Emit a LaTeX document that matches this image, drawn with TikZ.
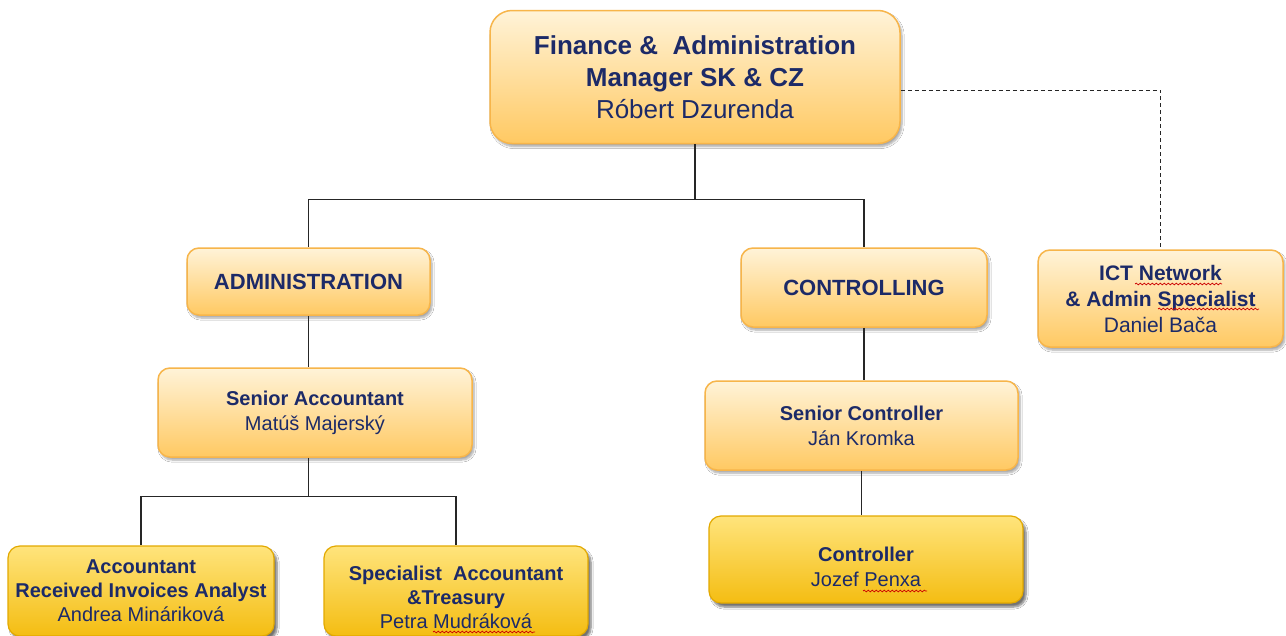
\documentclass[tikz,border=0pt]{standalone}
\usepackage{fontspec}
\setmainfont{Liberation Sans}
\usetikzlibrary{shadows.blur,decorations.pathmorphing}
\definecolor{navy}{HTML}{1C2A68}
\definecolor{lighttop}{HTML}{FFF3D8}
\definecolor{lightbot}{HTML}{FFC962}
\definecolor{lightedge}{HTML}{F7B54A}
\definecolor{darktop}{HTML}{FFE47C}
\definecolor{darkbot}{HTML}{F4BD12}
\definecolor{darkedge}{HTML}{E3A900}
\definecolor{wire}{HTML}{262626}
\tikzset{
  lightbox/.style={draw=lightedge, line width=1.5pt, top color=lighttop, bottom color=lightbot,
    rounded corners=12pt, align=center, inner sep=0pt, text=navy,
    blur shadow={shadow xshift=2pt, shadow yshift=-3pt, shadow blur steps=6, shadow opacity=35}},
  darkbox/.style={draw=darkedge, line width=1.2pt, top color=darktop, bottom color=darkbot,
    rounded corners=12pt, align=center, inner sep=0pt, text=navy,
    blur shadow={shadow xshift=3pt, shadow yshift=-4pt, shadow blur steps=6, shadow opacity=55}},
  boxtext/.style={align=center, inner sep=0pt, text=navy},
  wireline/.style={draw=wire, line width=1.3pt},
  dashline/.style={draw=wire, line width=1pt, dash pattern=on 4pt off 3pt},
  squiggle/.style={draw=red!80!black, line width=0.7pt, decorate,
    decoration={snake, amplitude=0.9pt, segment length=4pt}}
}
\begin{document}
\begin{tikzpicture}[x=1pt,y=-1pt]
\useasboundingbox[fill=white] (0,0) rectangle (1286,635);

% nodes
\node[lightbox, rounded corners=22pt, minimum width=410pt, minimum height=133pt,
  font=\fontsize{26}{32}\selectfont] (top) at (695,77)
  {\textbf{Finance \&\ \ Administration}\\\textbf{Manager SK \& CZ}\\Róbert Dzurenda};

\node[lightbox, minimum width=243pt, minimum height=67pt,
  font=\fontsize{22}{26}\selectfont\bfseries] (admin) at (308.5,281.5) {ADMINISTRATION};

\node[lightbox, minimum width=246pt, minimum height=79pt,
  font=\fontsize{22}{26}\selectfont\bfseries] (ctrl) at (864,287.5) {CONTROLLING};

\node[lightbox, minimum width=245pt, minimum height=97pt,
  font=\fontsize{21}{26}\selectfont] (ict) at (1160.5,298.5)
  {\textbf{ICT Network}\\\textbf{\& Admin\ Specialist}\\Daniel Bača};

\node[lightbox, minimum width=314pt, minimum height=89pt,
  font=\fontsize{20}{25}\selectfont] (sacc) at (315,412.5)
  {\textbf{Senior Accountant}\\Matúš Majerský};

\node[lightbox, minimum width=313pt, minimum height=89pt,
  font=\fontsize{20}{25}\selectfont] (sctrl) at (861.5,425.5)
  {\textbf{Senior Controller}\\Ján Kromka};

\node[darkbox, minimum width=314pt, minimum height=87pt] (ctrlr) at (866,559.5) {};
\node[boxtext, font=\fontsize{20}{25}\selectfont] (ctrlrtxt) at ([yshift=-7pt]ctrlr.center)
  {\textbf{Controller}\\Jozef Penxa};

\node[darkbox, minimum width=266pt, minimum height=90pt,
  font=\fontsize{20}{24}\selectfont] (acc) at (141,591)
  {\textbf{Accountant}\\\textbf{Received Invoices Analyst}\\Andrea Mináriková};

\node[darkbox, minimum width=264pt, minimum height=90pt] (spec) at (456,591) {};
\node[boxtext, font=\fontsize{20}{24}\selectfont] (spectxt) at ([yshift=-6pt]spec.center)
  {\textbf{Specialist\ \ Accountant}\\\textbf{\&Treasury}\\Petra Mudráková};

% connectors
\draw[wireline] (top.south) -- ++(0,55) coordinate (j1);
\draw[wireline] (j1) -| (admin.north);
\draw[wireline] (j1) -| (ctrl.north);
\draw[wireline] (admin.south) -- (admin.south |- sacc.north);
\draw[wireline] (admin.south |- sacc.south) -- ++(0,39) coordinate (j2);
\draw[wireline] (j2) -| (acc.north);
\draw[wireline] (j2) -| (spec.north);
\draw[wireline] (ctrl.south) -- (ctrl.south |- sctrl.north);
\draw[wireline] (sctrl.south) -- (sctrl.south |- ctrlr.north);
\draw[dashline] ([yshift=-13pt]top.east) -| (ict.north);

% spell-check squiggles
\draw[squiggle] (1135,284) -- (1222,284);
\draw[squiggle] (1158,309) -- (1259,309);
\draw[squiggle] (863,591) -- (927,591);
\draw[squiggle] (433,632) -- (535,632);
\end{tikzpicture}
\end{document}
